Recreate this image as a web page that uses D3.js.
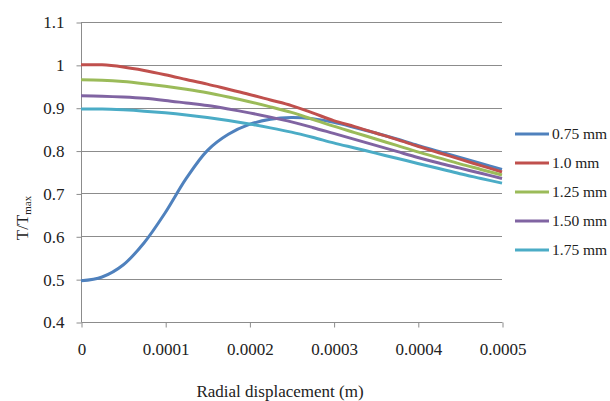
<!DOCTYPE html>
<html>
<head>
<meta charset="utf-8">
<script src="https://cdn.jsdelivr.net/npm/d3@7"></script>
<style>
  body { margin: 0; background: #fff; }
  svg text { font-family: 'Liberation Serif', 'Times New Roman', serif !important; fill: #222; }
</style>
</head>
<body>
<script>
var w = 610, h = 401;

// radial displacement (m)
var xs = [0, 0.000025, 0.00005, 0.000075, 0.0001, 0.000125, 0.00015, 0.000175, 0.0002, 0.000225,
          0.00025, 0.000275, 0.0003, 0.000325, 0.00035, 0.000375, 0.0004, 0.000425, 0.00045, 0.000475, 0.0005];

var names = ['0.75 mm', '1.0 mm', '1.25 mm', '1.50 mm', '1.75 mm'];
var colors = ['#4f81bd', '#c0504d', '#9bbb59', '#8064a2', '#4bacc6'];

var s075 = [0.496, 0.505, 0.533, 0.585, 0.655, 0.735, 0.800, 0.838, 0.861, 0.873,
            0.877, 0.874, 0.866, 0.854, 0.841, 0.827, 0.812, 0.798, 0.784, 0.770, 0.756];
var s100 = [1.000, 1.000, 0.995, 0.987, 0.977, 0.966, 0.955, 0.943, 0.931, 0.918,
            0.905, 0.888, 0.870, 0.856, 0.841, 0.826, 0.810, 0.795, 0.780, 0.765, 0.750];
var s125 = [0.965, 0.964, 0.961, 0.956, 0.950, 0.943, 0.935, 0.925, 0.914, 0.902,
            0.889, 0.873, 0.857, 0.842, 0.827, 0.812, 0.797, 0.783, 0.769, 0.756, 0.743];
var s150 = [0.928, 0.927, 0.925, 0.922, 0.917, 0.911, 0.905, 0.897, 0.888, 0.878,
            0.867, 0.854, 0.840, 0.826, 0.812, 0.798, 0.784, 0.771, 0.759, 0.747, 0.735];
var s175 = [0.897, 0.897, 0.895, 0.892, 0.888, 0.883, 0.877, 0.870, 0.862, 0.853,
            0.843, 0.831, 0.818, 0.806, 0.794, 0.782, 0.770, 0.758, 0.746, 0.735, 0.724];

var series = [s075, s100, s125, s150, s175];

var xTicks = [0, 0.0001, 0.0002, 0.0003, 0.0004, 0.0005];
var xTickLabels = ['0', '0.0001', '0.0002', '0.0003', '0.0004', '0.0005'];
var yTicks = [0.4, 0.5, 0.6, 0.7, 0.8, 0.9, 1, 1.1];
var yTickLabels = ['0.4', '0.5', '0.6', '0.7', '0.8', '0.9', '1', '1.1'];

var fs = 17;

var x = d3.scaleLinear().domain([0, 0.0005]).range([81, 502]);
var y = d3.scaleLinear().domain([0.4, 1.1]).range([322, 22]);

var svg = d3.select('body').append('svg')
    .attr('width', w)
    .attr('height', h)
    .attr('font-family', 'Liberation Serif');

// horizontal gridlines
svg.append('g').selectAll('line')
    .data(yTicks.filter(d => d > 0.4))
    .enter()
    .append('line')
    .attr('x1', x(0)).attr('x2', x(0.0005))
    .attr('y1', d => Math.round(y(d)) + 0.5)
    .attr('y2', d => Math.round(y(d)) + 0.5)
    .attr('stroke', '#8c8c8c')
    .attr('stroke-width', 1);

// y axis
var yAxis = svg.append('g')
    .attr('transform', 'translate(' + (x(0) + 0.5) + ',0.5)')
    .call(d3.axisLeft(y).tickValues(yTicks).tickSize(5).tickPadding(12)
        .tickFormat((d, i) => yTickLabels[i]));
yAxis.attr('font-family', null).attr('font-size', null);
yAxis.selectAll('.domain').attr('stroke', '#8c8c8c').attr('d', 'M0,' + y(1.1) + 'V' + y(0.4));
yAxis.selectAll('.tick line').attr('stroke', '#8c8c8c');
yAxis.selectAll('.tick text').attr('font-size', fs).attr('fill', '#222');

// x axis
var xAxis = svg.append('g')
    .attr('transform', 'translate(0.5,' + (y(0.4) + 0.5) + ')')
    .call(d3.axisBottom(x).tickValues(xTicks).tickSize(5).tickPadding(15)
        .tickFormat((d, i) => xTickLabels[i]));
xAxis.attr('font-family', null).attr('font-size', null);
xAxis.selectAll('.domain').attr('stroke', '#8c8c8c').attr('d', 'M' + x(0) + ',0H' + x(0.0005));
xAxis.selectAll('.tick line').attr('stroke', '#8c8c8c');
xAxis.selectAll('.tick text').attr('font-size', fs).attr('fill', '#222');

// lines
var line = d3.line()
    .x((d, i) => x(xs[i]))
    .y(d => y(d))
    .curve(d3.curveCatmullRom.alpha(0.5));

svg.append('g').selectAll('path')
    .data(series)
    .enter()
    .append('path')
    .attr('d', line)
    .attr('fill', 'none')
    .attr('stroke', (d, i) => colors[i])
    .attr('stroke-width', 3)
    .attr('stroke-linejoin', 'round');

// legend (text shrunk a bit so it stays inside the page)
var legend = svg.append('g').selectAll('g')
    .data(names)
    .enter()
    .append('g')
    .attr('transform', (d, i) => 'translate(515,' + (134 + i * 29) + ')');

legend.append('line')
    .attr('x1', 0).attr('x2', 34)
    .attr('stroke', (d, i) => colors[i])
    .attr('stroke-width', 3);

legend.append('text')
    .attr('x', 37)
    .attr('dy', '0.33em')
    .attr('font-size', 15.5)
    .text(d => d);

// axis titles
svg.append('text')
    .attr('x', 280)
    .attr('y', 397)
    .attr('text-anchor', 'middle')
    .attr('font-size', fs)
    .text('Radial displacement (m)');

var yt = svg.append('text')
    .attr('transform', 'translate(28,218) rotate(-90)')
    .attr('text-anchor', 'middle')
    .attr('font-size', fs);
yt.append('tspan').text('T/T');
yt.append('tspan').attr('dy', 3).attr('font-size', 11).text('max');
</script>
</body>
</html>
